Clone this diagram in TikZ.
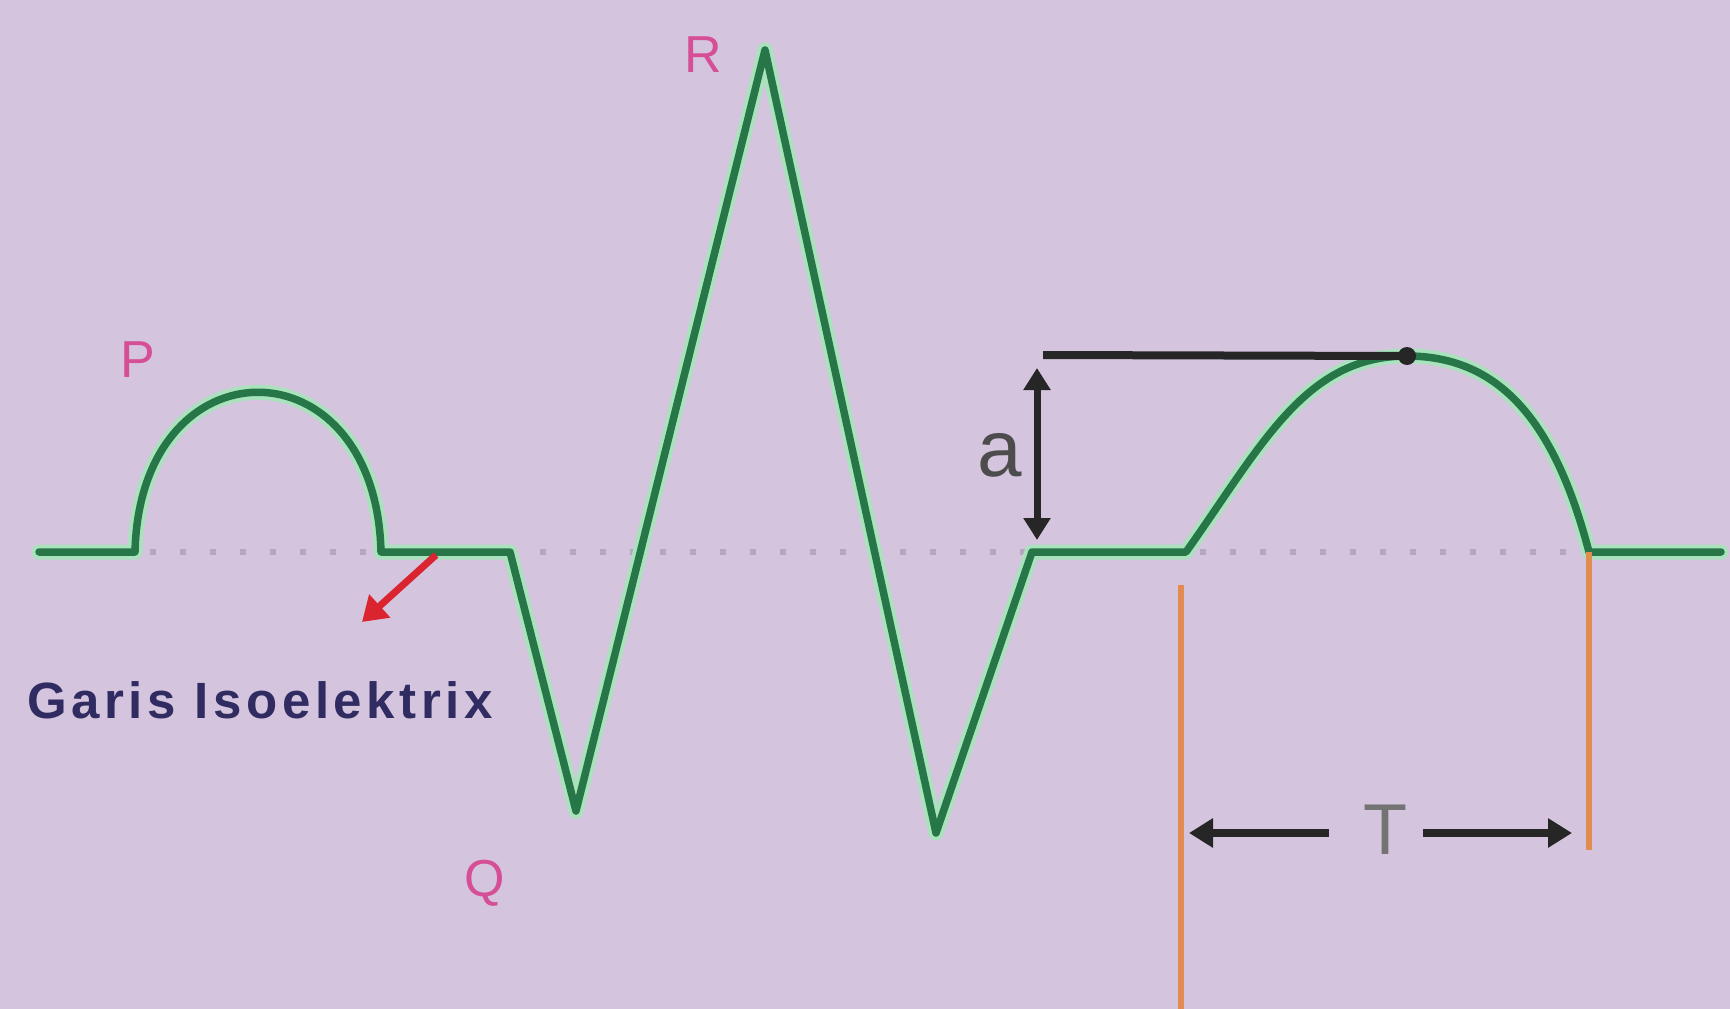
\documentclass[tikz,border=0pt]{standalone}
\usepackage{fontspec}
\setmainfont{Liberation Sans}
\newfontfamily\lblfont[LetterSpace=9]{Liberation Sans}
\usetikzlibrary{arrows.meta}
\definecolor{bgc}{RGB}{212,196,222}
\definecolor{ecg}{RGB}{38,118,72}
\definecolor{halo}{RGB}{170,226,190}
\definecolor{pinkl}{RGB}{214,78,150}
\definecolor{navy}{RGB}{48,44,98}
\definecolor{orng}{RGB}{226,140,80}
\definecolor{redc}{RGB}{218,36,48}
\definecolor{dotc}{RGB}{178,170,188}
\begin{document}
\begin{tikzpicture}[x=1pt,y=-1pt,
  ecgline/.style={line width=#1, line join=round, line cap=round},
  wavelbl/.style={text=pinkl, font=\fontsize{52}{60}\selectfont, inner sep=0pt},
  blk/.style={line width=8pt, black!85},
  orline/.style={line width=6pt, orng}]
\fill[bgc] (0,0) rectangle (1730,1009);
\useasboundingbox (0,0) rectangle (1730,1009);
% key points
\coordinate (s0) at (39,552);
\coordinate (p0) at (135,552);
\coordinate (p1) at (381,552);
\coordinate (q0) at (510,552);
\coordinate (q) at (576,811);
\coordinate (r) at (765,50);
\coordinate (s) at (936,833);
\coordinate (j) at (1032,552);
\coordinate (t0) at (1186,552);
\coordinate (tp) at (1407,356);
\coordinate (t1) at (1589,552);
\coordinate (e) at (1721,552);
% isoelectric dotted line
\draw[dotc, line width=6pt, dash pattern=on 6pt off 24pt] (150,552) -- (1589,552);
% ECG trace
\foreach \w/\c in {15pt/halo, 7.5pt/ecg}{
\draw[ecgline=\w, color=\c] (s0) -- (p0) .. controls (140,339) and (376,339) .. (p1)
  -- (q0) -- (q) -- (r) -- (s) -- (j) -- (t0)
  .. controls (1262,445) and (1305,356) .. (tp)
  .. controls (1505,356) and (1557,430) .. (t1) -- (e);
}
% amplitude
\coordinate (ha) at (1043,355);
\coordinate (ab) at (1037,540);
\coordinate (at) at (1037,368);
\draw[blk] (ha) -- (tp);
\fill[black!85] (tp) circle (9pt);
\draw[line width=7pt, black!85, {Triangle[length=22pt,width=26pt]}-{Triangle[length=22pt,width=26pt]}] (at) -- (ab);
\node[text=black!70, font=\fontsize{80}{90}\selectfont, inner sep=0pt] (albl) at (1000,455) {a};
% orange verticals
\coordinate (o1t) at (1181,585);
\coordinate (o1b) at (1181,1009);
\coordinate (o2b) at (1589,850);
\draw[orline] (o1t) -- (o1b);
\draw[orline] (t1) -- (o2b);
% T duration
\node[text=black!55, font=\fontsize{72}{80}\selectfont, inner sep=0pt] (tlbl) at (1385,830) {T};
\coordinate (tl) at (1189,833);
\coordinate (tr) at (1572,833);
\draw[line width=8pt, black!85, {Triangle[length=24pt,width=28pt]}-] (tl) -- (1329,833);
\draw[line width=8pt, black!85, -{Triangle[length=24pt,width=28pt]}] (1423,833) -- (tr);
% red arrow to isoelectric line
\coordinate (ra0) at (436,555);
\coordinate (ra1) at (362,622);
\draw[line width=7pt, redc, -{Triangle[length=24pt,width=30pt]}] (ra0) -- (ra1);
% labels
\node[wavelbl] (plbl) at (138,360) {P};
\node[wavelbl] (rlbl) at (703,55) {R};
\node[wavelbl] (qlbl) at (485,883) {Q};
\node[text=navy, font=\lblfont\bfseries\fontsize{51}{60}\selectfont, inner sep=0pt] (glbl) at (260,700) {Garis Isoelektrix};
\end{tikzpicture}
\end{document}
